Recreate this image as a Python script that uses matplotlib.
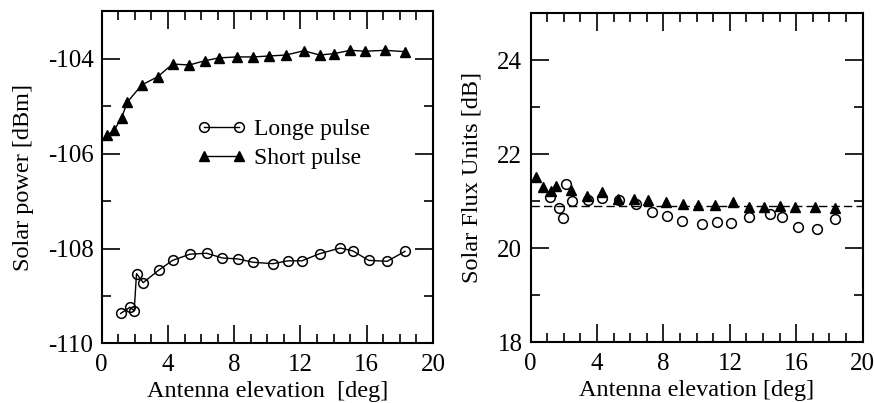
#!/usr/bin/env python3

import numpy as np
import matplotlib.pyplot as plt
from matplotlib.legend_handler import HandlerLine2D
from matplotlib.ticker import MultipleLocator

# Antenna elevation of each scan [deg]
elev_long = [1.14, 1.7, 1.96, 2.1, 2.5, 3.43, 4.28, 5.32, 6.33, 7.29, 8.23,
             9.13, 10.34, 11.24, 12.08, 13.15, 14.4, 15.16, 16.12, 17.23, 18.31]
elev_short = [0.34, 0.76, 1.2, 1.55, 2.42, 3.37, 4.28, 5.29, 6.23, 7.08, 8.16,
              9.15, 10.1, 11.13, 12.2, 13.16, 14.03, 15.02, 15.91, 17.12, 18.33]

# Measured solar power [dBm]
power_long = [-109.37, -109.24, -109.31, -108.53, -108.72, -108.46, -108.25,
              -108.12, -108.10, -108.20, -108.22, -108.29, -108.32, -108.26,
              -108.26, -108.11, -107.99, -108.05, -108.25, -108.27, -108.06]
power_short = [-105.61, -105.50, -105.24, -104.91, -104.55, -104.38, -104.11,
               -104.13, -104.04, -103.98, -103.96, -103.96, -103.94, -103.92,
               -103.83, -103.92, -103.89, -103.82, -103.84, -103.82, -103.85]

# Derived solar flux [dB]
sfu_long = [21.10, 20.85, 20.65, 21.36, 21.01, 21.03, 21.06, 21.03, 20.95,
            20.78, 20.69, 20.59, 20.52, 20.55, 20.54, 20.66, 20.74, 20.67,
            20.46, 20.42, 20.62]
sfu_short = [21.51, 21.30, 21.22, 21.32, 21.24, 21.11, 21.20, 21.05, 21.04,
             21.03, 20.99, 20.95, 20.93, 20.92, 20.98, 20.87, 20.87, 20.91,
             20.87, 20.87, 20.85]
sfu_ref = 20.9

plt.rcParams['font.family'] = ['Liberation Serif', 'DejaVu Serif']
plt.rcParams['font.size'] = 18
plt.rcParams['axes.unicode_minus'] = False


def style_axes(ax, ymajor):
    ax.xaxis.set_major_locator(MultipleLocator(4))
    ax.xaxis.set_minor_locator(MultipleLocator(1))
    ax.yaxis.set_major_locator(MultipleLocator(ymajor))
    ax.yaxis.set_minor_locator(MultipleLocator(ymajor / 2))
    ax.tick_params(which='both', direction='in', top=True, right=True,
                   width=1.2, labelsize=18)
    ax.tick_params(which='major', length=13)
    ax.tick_params(which='minor', length=6.5)
    ax.tick_params(axis='x', which='major', pad=8)
    ax.tick_params(axis='y', which='major', pad=6)
    for s in ax.spines.values():
        s.set_linewidth(1.5)


def main():
    fig = plt.figure(figsize=(8.74, 4.03), dpi=100)
    ax1 = fig.add_axes([0.1164, 0.148, 0.379, 0.8237])
    ax2 = fig.add_axes([0.6072, 0.1506, 0.3798, 0.8164])

    ax1.plot(elev_long, power_long, color='black', lw=1, marker='o',
             ms=7, mfc='none', mew=1.1, label='Longe pulse')
    ax1.plot(elev_short, power_short, color='black', lw=1, marker='^',
             ms=7.5, label='Short pulse')
    ax1.set_xlim(0, 20)
    ax1.set_ylim(-110, -103)
    style_axes(ax1, 2)
    ax1.set_xlabel('Antenna elevation  [deg]', fontsize=17.5, labelpad=3)
    ax1.set_ylabel('Solar power [dBm]', fontsize=17.5, labelpad=10)
    # two markers per legend line, sitting at the line ends
    ax1.legend(loc='upper left', bbox_to_anchor=(0.31, 0.676), frameon=False,
               numpoints=2, handlelength=1.45, handletextpad=0.65,
               labelspacing=0.3, fontsize=17, borderpad=0, borderaxespad=0,
               handler_map={plt.Line2D: HandlerLine2D(marker_pad=0)})

    ax2.axhline(sfu_ref, color='black', lw=1, ls=(0, (6, 3)))
    ax2.plot(elev_long, sfu_long, ls='none', color='black', marker='o',
             ms=7, mfc='none', mew=1.1)
    ax2.plot(elev_short, sfu_short, ls='none', color='black', marker='^',
             ms=7.5)
    ax2.set_xlim(0, 20)
    ax2.set_ylim(18, 25)
    style_axes(ax2, 2)
    ax2.set_xlabel('Antenna elevation [deg]', fontsize=17.5, labelpad=3)
    ax2.set_ylabel('Solar Flux Units [dB]', fontsize=17.5, labelpad=11)

    fig.savefig('out.png', dpi=100)


if __name__ == "__main__":
    main()
